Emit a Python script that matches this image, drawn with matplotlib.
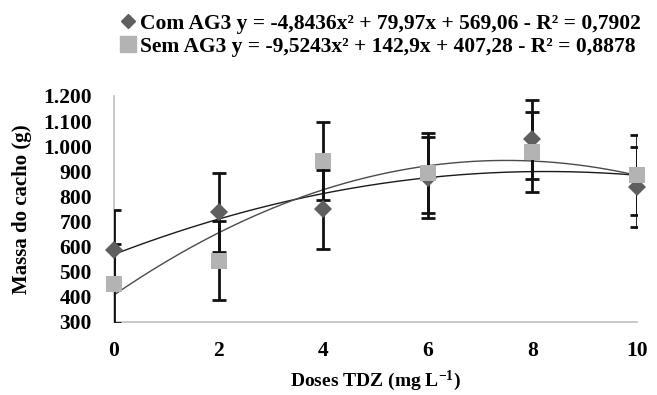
import numpy as np
import matplotlib
matplotlib.use('Agg')
import matplotlib.pyplot as plt
from matplotlib.lines import Line2D

# data
doses = [0, 2, 4, 6, 8, 10]
com_ag3 = [587, 737, 748, 875, 1027, 838]
com_err = [158, 158, 157, 160, 158, 158]
sem_ag3 = [452, 544, 941, 893, 977, 884]
sem_err = [158, 158, 156, 160, 158, 160]

# fitted quadratics (from the legend)
com_fit = [-4.8436, 79.97, 569.06]
sem_fit = [-9.5243, 142.9, 407.28]
com_label = 'Com AG3 y = -4,8436x² + 79,97x + 569,06 - R² = 0,7902'
sem_label = 'Sem AG3 y = -9,5243x² + 142,9x + 407,28 - R² = 0,8878'

yticks = [300, 400, 500, 600, 700, 800, 900, 1000, 1100, 1200]
yticklabels = ['300', '400', '500', '600', '700', '800', '900', '1.000', '1.100', '1.200']
xticks = [0, 2, 4, 6, 8, 10]

plt.rcParams['font.family'] = ['Liberation Serif', 'DejaVu Serif']
plt.rcParams['font.weight'] = 'bold'
plt.rcParams['axes.labelweight'] = 'bold'
plt.rcParams['mathtext.fontset'] = 'custom'
plt.rcParams['mathtext.rm'] = 'Liberation Serif:bold'
plt.rcParams['mathtext.it'] = 'Liberation Serif:bold'
plt.rcParams['mathtext.bf'] = 'Liberation Serif:bold'

fig = plt.figure(figsize=(6.57, 3.95), dpi=100)
ax = fig.add_axes([0.1735, 0.185, 0.7960, 0.572])

xx = np.linspace(0, 10, 200)
ax.plot(xx, np.polyval(com_fit, xx), color='#1a1a1a', lw=1.0, zorder=2)
ax.plot(xx, np.polyval(sem_fit, xx), color='#4a4a4a', lw=1.0, zorder=2)

ax.errorbar(doses, com_ag3, yerr=com_err, fmt='none', ecolor='#111111',
            elinewidth=2, capsize=5, capthick=2, zorder=3)
ax.errorbar(doses, sem_ag3, yerr=sem_err, fmt='none', ecolor='#111111',
            elinewidth=2, capsize=5, capthick=2, zorder=3)
ax.plot(doses, com_ag3, 'D', color='#5f5f5f', ms=9, mew=0, zorder=4, clip_on=False)
ax.plot(doses, sem_ag3, 's', color='#b3b3b3', ms=12, mew=0, zorder=5, clip_on=False)

ax.set_xlim(0, 10)
ax.set_ylim(300, 1200)
ax.set_xticks(xticks)
ax.set_yticks(yticks)
ax.set_yticklabels(yticklabels)
ax.tick_params(length=0, labelsize=15.5)
ax.tick_params(axis='x', pad=14)
ax.tick_params(axis='y', pad=16)
for s in ['top', 'right']:
    ax.spines[s].set_visible(False)
for s in ['left', 'bottom']:
    ax.spines[s].set_color('#bfbfbf')
    ax.spines[s].set_linewidth(1.2)

ax.set_xlabel(r'Doses TDZ (mg L$^{-1}$)', fontsize=14, labelpad=5)
ax.set_ylabel('Massa do cacho (g)', fontsize=15, labelpad=8)

handles = [Line2D([], [], marker='D', color='#5f5f5f', ls='none', ms=7),
           Line2D([], [], marker='s', color='#b3b3b3', ls='none', ms=12)]
fig.legend(handles, [com_label, sem_label], loc='upper left',
           bbox_to_anchor=(0.155, 1.015), frameon=False, fontsize=15.5,
           handlelength=0.6, handletextpad=0.25, labelspacing=0.15)

fig.savefig('out.png', dpi=100)
